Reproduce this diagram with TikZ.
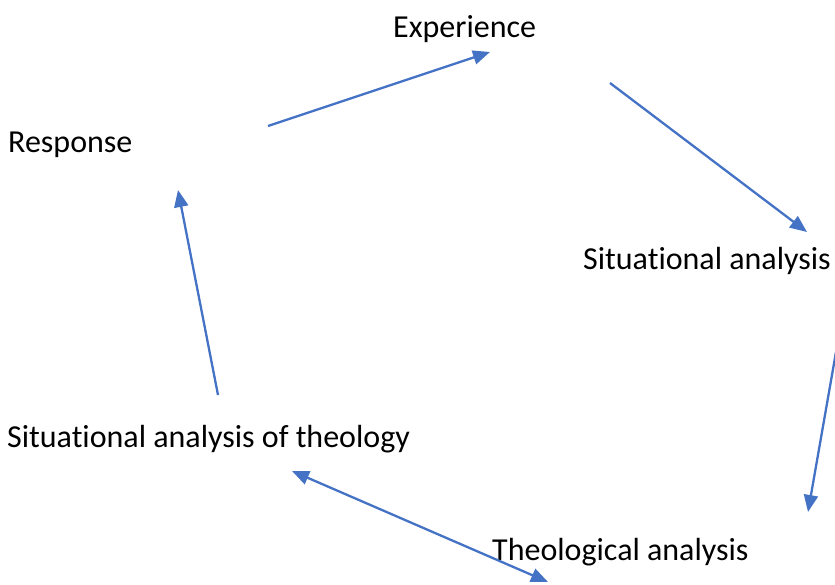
\documentclass[tikz,border=0pt]{standalone}
\usepackage{fontspec}
\setmainfont[Ligatures={NoCommon}]{Carlito}
\usetikzlibrary{arrows.meta}
\definecolor{arrowblue}{HTML}{4472C4}
\tikzset{
  lbl/.style={anchor=base west, inner sep=0pt, font=\fontsize{32}{38}\selectfont, text=black},
  conn/.style={draw=arrowblue, line width=2.3pt, -{Triangle[length=17pt,width=14pt]}},
  bconn/.style={draw=arrowblue, line width=2.3pt, {Triangle[length=17pt,width=14pt]}-{Triangle[length=17pt,width=14pt]}}
}
\begin{document}
\begin{tikzpicture}[x=1pt,y=-1pt]
\useasboundingbox (0,0) rectangle (835,585);
\node[lbl] (exp) at (393,38) {Experience};
\node[lbl] (resp) at (8,153) {Response};
\node[lbl] (sit) at (583,270) {Situational analysis};
\node[lbl] (sitt) at (7,447) {Situational analysis of theology};
\node[lbl] (theo) at (492,560) {Theological analysis};
\coordinate (a1s) at (268,126);
\coordinate (a1e) at (490,52);
\coordinate (a2s) at (610,83);
\coordinate (a2e) at (807,232);
\coordinate (a3s) at (836,352);
\coordinate (a3e) at (808,512);
\coordinate (a4s) at (292,471);
\coordinate (a4e) at (548,582);
\coordinate (a5s) at (218,395);
\coordinate (a5e) at (178,190);
\draw[conn] (a1s) -- (a1e);
\draw[conn] (a2s) -- (a2e);
\draw[conn] (a3s) -- (a3e);
\draw[bconn] (a4s) -- (a4e);
\draw[conn] (a5s) -- (a5e);
\end{tikzpicture}
\end{document}
